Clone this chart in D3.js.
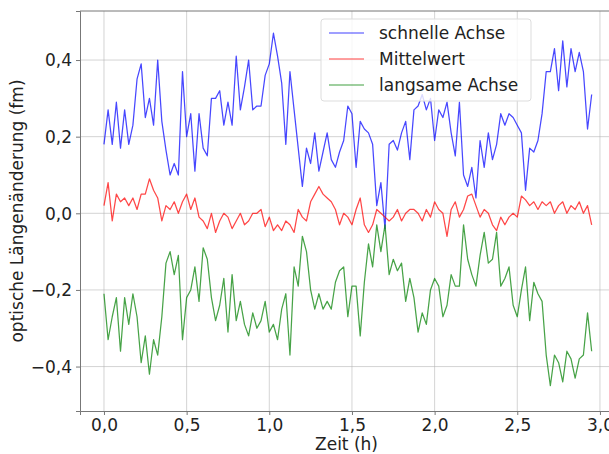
<!DOCTYPE html>
<html>
<head>
<meta charset="utf-8">
<script src="https://cdn.jsdelivr.net/npm/d3@7"></script>
<style>
  body { margin: 0; background: #fff; }
  svg { font-family: "DejaVu Sans", sans-serif; }
</style>
</head>
<body>
<script>
var width = 609,
    height = 454;

// sampling of the curves (hours)
var tStart = 0, tStep = 0.025;

var fastAxis = [
  0.18, 0.27, 0.18, 0.29, 0.17, 0.27, 0.18, 0.23, 0.35, 0.39,
  0.25, 0.30, 0.23, 0.40, 0.24, 0.165, 0.10, 0.13, 0.10, 0.37,
  0.20, 0.26, 0.11, 0.26, 0.17, 0.15, 0.30, 0.30, 0.32, 0.23,
  0.29, 0.23, 0.41, 0.27, 0.33, 0.40, 0.27, 0.28, 0.28, 0.36,
  0.39, 0.47, 0.41, 0.34, 0.18, 0.37, 0.27, 0.17, 0.07, 0.17,
  0.13, 0.21, 0.11, 0.16, 0.21, 0.14, 0.12, 0.16, 0.19, 0.28,
  0.26, 0.12, 0.24, 0.22, 0.21, 0.18, 0.02, 0.08, -0.04, 0.18,
  0.19, 0.165, 0.21, 0.24, 0.14, 0.27, 0.28, 0.31, 0.27, 0.30,
  0.19, 0.27, 0.25, 0.29, 0.21, 0.15, 0.29, 0.10, 0.07, 0.12,
  0.04, 0.19, 0.12, 0.21, 0.14, 0.18, 0.26, 0.23, 0.26, 0.25,
  0.23, 0.21, 0.06, 0.17, 0.16, 0.19, 0.26, 0.37, 0.37, 0.43,
  0.32, 0.45, 0.33, 0.43, 0.37, 0.42, 0.37, 0.22, 0.31
];

var meanValue = [
  0.02, 0.08, -0.02, 0.05, 0.03, 0.04, 0.02, 0.04, 0.01, 0.05,
  0.05, 0.09, 0.06, 0.04, -0.02, 0.02, 0.01, 0.03, 0.0, 0.03,
  0.05, 0.01, 0.04, -0.01, -0.02, -0.04, 0.0, -0.05, -0.02, 0.0,
  -0.01, -0.04, -0.02, 0.0, -0.03, -0.02, 0.0, 0.0, 0.01, -0.035,
  -0.01, -0.045, -0.03, -0.045, -0.02, -0.03, -0.05, 0.01, -0.01, -0.02,
  0.03, 0.05, 0.07, 0.05, 0.04, 0.03, 0.01, -0.03, 0.0, -0.01,
  -0.03, 0.01, 0.04, -0.03, -0.05, -0.03, 0.01, 0.0, -0.01, -0.02,
  -0.01, 0.01, -0.02, 0.0, 0.01, 0.01, 0.0, -0.02, 0.01, -0.01,
  0.03, 0.01, 0.0, -0.06, 0.01, 0.03, -0.01, 0.01, 0.045, 0.05,
  0.02, -0.01, 0.01, 0.0, -0.03, -0.045, -0.01, -0.03, -0.01, 0.0,
  -0.01, 0.045, 0.035, 0.02, 0.03, 0.01, 0.03, 0.02, 0.03, 0.0,
  0.02, 0.03, 0.0, 0.02, 0.01, 0.03, 0.0, 0.02, -0.03
];

var slowAxis = [
  -0.21, -0.33, -0.27, -0.22, -0.36, -0.22, -0.29, -0.21, -0.27, -0.39,
  -0.32, -0.42, -0.33, -0.37, -0.27, -0.13, -0.10, -0.16, -0.11, -0.33,
  -0.22, -0.20, -0.14, -0.23, -0.09, -0.12, -0.22, -0.28, -0.24, -0.17,
  -0.31, -0.16, -0.28, -0.23, -0.29, -0.32, -0.26, -0.30, -0.28, -0.23,
  -0.31, -0.29, -0.33, -0.25, -0.21, -0.37, -0.14, -0.19, -0.06, -0.10,
  -0.20, -0.25, -0.21, -0.25, -0.23, -0.25, -0.18, -0.15, -0.14, -0.27,
  -0.19, -0.19, -0.32, -0.18, -0.08, -0.14, -0.03, -0.10, -0.03, -0.16,
  -0.12, -0.15, -0.13, -0.23, -0.17, -0.22, -0.31, -0.26, -0.29, -0.20,
  -0.17, -0.19, -0.27, -0.24, -0.16, -0.19, -0.19, -0.03, -0.12, -0.16,
  -0.19, -0.11, -0.05, -0.13, -0.12, -0.05, -0.19, -0.17, -0.14, -0.24,
  -0.27, -0.20, -0.14, -0.28, -0.18, -0.21, -0.23, -0.37, -0.45, -0.37,
  -0.39, -0.44, -0.36, -0.38, -0.43, -0.38, -0.37, -0.26, -0.36
];

var seriesNames = ["schnelle Achse", "Mittelwert", "langsame Achse"];
var seriesColors = ["#0000ff", "#ff0000", "#008000"];
var xTicks = [0, 0.5, 1.0, 1.5, 2.0, 2.5, 3.0];
var yTicks = [-0.4, -0.2, 0.0, 0.2, 0.4];

var margin = {left: 80, top: 11, bottom: 411, right: 613};
var fontSize = 17;

var svg = d3.select("body").append("svg")
    .attr("width", width)
    .attr("height", height);

var x = d3.scaleLinear().domain([-0.145, 3.079]).range([margin.left, margin.right]);
var y = d3.scaleLinear().domain([-0.516, 0.528]).range([margin.bottom, margin.top]);

var fmt = function(d) {
  return d3.format(".1f")(d).replace("-", "\u2212").replace(".", ",");
};

// grid
svg.append("g").selectAll("line").data(xTicks).enter().append("line")
    .attr("x1", d => x(d)).attr("x2", d => x(d))
    .attr("y1", margin.top).attr("y2", margin.bottom)
    .attr("stroke", "#b0b0b0").attr("stroke-opacity", 0.55).attr("stroke-width", 1);
svg.append("g").selectAll("line").data(yTicks).enter().append("line")
    .attr("x1", margin.left).attr("x2", margin.right)
    .attr("y1", d => y(d)).attr("y2", d => y(d))
    .attr("stroke", "#b0b0b0").attr("stroke-opacity", 0.55).attr("stroke-width", 1);

// curves
var allSeries = [fastAxis, meanValue, slowAxis];
var line = d3.line()
    .x((d, i) => x(tStart + i * tStep))
    .y(d => y(d));

allSeries.forEach(function(s, k) {
  svg.append("path")
      .datum(s)
      .attr("d", line)
      .attr("fill", "none")
      .attr("stroke", seriesColors[k])
      .attr("stroke-opacity", 0.72)
      .attr("stroke-width", 1.25)
      .attr("stroke-linejoin", "round");
});

// axes
var xAxis = svg.append("g")
    .attr("transform", "translate(0," + margin.bottom + ")")
    .call(d3.axisBottom(x).tickValues(xTicks).tickFormat(fmt).tickSizeOuter(0).tickSize(4).tickPadding(4));
var yAxis = svg.append("g")
    .attr("transform", "translate(" + margin.left + ",0)")
    .call(d3.axisLeft(y).tickValues(yTicks).tickFormat(fmt).tickSizeOuter(0).tickSize(4).tickPadding(4));

[xAxis, yAxis].forEach(function(a) {
  a.select(".domain").attr("stroke", "#777").attr("stroke-width", 1);
  a.selectAll(".tick line").attr("stroke", "#777");
  a.selectAll("text").attr("font-size", fontSize).attr("fill", "#222")
      .attr("font-family", "DejaVu Sans");
});
yAxis.selectAll("text").attr("dy", "0.35em");

// top spine
svg.append("line")
    .attr("x1", margin.left).attr("x2", margin.right)
    .attr("y1", margin.top).attr("y2", margin.top)
    .attr("stroke", "#777");

// axis labels
svg.append("text")
    .attr("x", (margin.left + margin.right) / 2).attr("y", 450)
    .attr("text-anchor", "middle")
    .attr("font-size", fontSize).attr("fill", "#222")
    .text("Zeit (h)");
svg.append("text")
    .attr("transform", "translate(23," + ((margin.top + margin.bottom) / 2) + ") rotate(-90)")
    .attr("text-anchor", "middle")
    .attr("font-size", fontSize).attr("fill", "#222")
    .text("optische Längenänderung (fm)");

// legend
var legend = svg.append("g").attr("transform", "translate(321,19)");
legend.append("rect")
    .attr("width", 210).attr("height", 82)
    .attr("rx", 3)
    .attr("fill", "#fff").attr("fill-opacity", 0.8)
    .attr("stroke", "#ddd");
seriesNames.forEach(function(name, k) {
  var g = legend.append("g").attr("transform", "translate(0," + (14 + k * 26) + ")");
  g.append("line")
      .attr("x1", 8).attr("x2", 43)
      .attr("stroke", seriesColors[k]).attr("stroke-opacity", 0.5).attr("stroke-width", 1.3);
  g.append("text")
      .attr("x", 58).attr("dy", "0.35em")
      .attr("font-size", fontSize).attr("fill", "#222")
      .text(name);
});
</script>
</body>
</html>
